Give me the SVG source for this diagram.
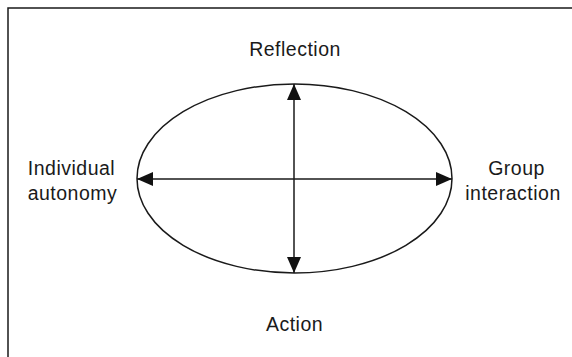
<svg xmlns="http://www.w3.org/2000/svg" width="572" height="357" viewBox="0 0 572 357">
<defs>
<style>
.lbl{font-family:"Liberation Sans",Arial,sans-serif;font-size:19.5px;letter-spacing:0.5px;fill:#1a1a1a;text-anchor:middle}
.ln{stroke:#1a1a1a;stroke-width:1.5;fill:none}
</style>
<marker id="ah" viewBox="0 0 16 14" refX="16" refY="7" markerWidth="16" markerHeight="14" markerUnits="userSpaceOnUse" orient="auto-start-reverse">
<path d="M0,0 L16,7 L0,14 Z" fill="#111"/>
</marker>
</defs>
<rect width="572" height="357" fill="#fff"/>
<g id="frame">
<path class="ln" d="M8,357 V8 H572"/>
</g>
<g id="cycle">
<ellipse class="ln" cx="294.5" cy="178.5" rx="157.5" ry="94.5"/>
</g>
<g id="connectors">
<line class="ln" x1="294" y1="84" x2="294" y2="273" marker-start="url(#ah)" marker-end="url(#ah)"/>
<line class="ln" x1="137" y1="179" x2="452" y2="179" marker-start="url(#ah)" marker-end="url(#ah)"/>
</g>
<g id="reflection"><text class="lbl" x="295" y="56">Reflection</text></g>
<g id="individual"><text class="lbl" x="71.5" y="175">Individual</text><text class="lbl" x="72.5" y="200">autonomy</text></g>
<g id="group"><text class="lbl" x="516.5" y="175">Group</text><text class="lbl" x="513" y="200">interaction</text></g>
<g id="action"><text class="lbl" x="294.5" y="331">Action</text></g>
</svg>
